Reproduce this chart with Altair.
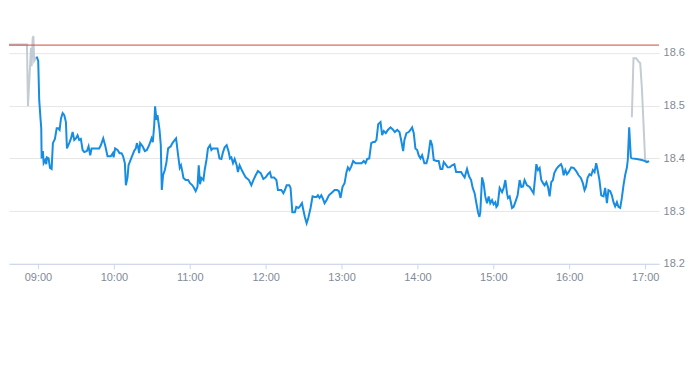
import altair as alt
import pandas as pd

# Minutes relative to 09:00 and prices
pre_min = [-29.0, -28.7, -8.7, -7.9, -5.5, -5.0, -4.2, -3.6, -3.0, -1.0]
pre_price = [18.656, 18.616, 18.616, 18.499, 18.610, 18.575, 18.628, 18.632, 18.585, 18.593]

session_min = [
    -1.0, 0.2, 1.0, 2.0, 2.6, 2.9, 3.9, 4.5, 5.8, 6.6,
    7.1, 8.4, 9.5, 10.8, 11.8, 13.4, 14.8, 16.0, 17.1, 18.2,
    19.5, 20.8, 22.1, 22.9, 24.7, 26.1, 27.4, 28.7, 30.0, 31.3,
    32.6, 33.9, 35.3, 36.6, 38.7, 40.0, 41.3, 42.4, 44.4, 48.4,
    49.7, 51.6, 53.1, 55.0, 57.6, 59.2, 59.8, 61.0, 62.9, 64.5,
    66.1, 67.3, 68.7, 69.5, 70.8, 71.6, 74.0, 76.0, 77.4, 78.2,
    79.2, 80.0, 80.8, 82.7, 84.5, 86.1, 87.9, 89.8, 90.8, 91.9,
    92.6, 93.7, 94.5, 96.1, 97.1, 97.9, 98.9, 100.3, 101.6, 102.9,
    105.0, 106.3, 108.2, 109.2, 110.8, 112.1, 113.1, 114.2, 115.0, 116.8,
    118.7, 120.2, 122.1, 123.4, 124.7, 126.1, 127.1, 128.1, 129.2, 130.8,
    131.8, 133.2, 134.4, 136.0, 137.1, 138.2, 141.9, 143.5, 145.0, 146.3,
    147.6, 149.2, 150.8, 151.8, 152.9, 154.2, 155.5, 157.1, 158.1, 159.4,
    161.5, 164.2, 166.8, 168.7, 170.3, 172.1, 173.9, 176.1, 178.2, 180.0,
    181.8, 183.4, 184.5, 186.6, 188.5, 189.7, 192.4, 194.0, 195.2, 196.6,
    198.7, 199.7, 201.1, 203.1, 204.2, 205.8, 207.1, 208.7, 209.8, 211.0,
    212.4, 213.7, 215.5, 217.1, 218.7, 220.3, 221.3, 222.6, 224.0, 225.0,
    226.6, 228.2, 230.0, 232.7, 234.5, 236.6, 237.9, 239.2, 240.8, 242.4,
    243.9, 245.0, 246.3, 247.7, 249.2, 251.1, 253.7, 255.8, 257.6, 259.0,
    260.3, 261.9, 263.5, 265.0, 266.3, 267.6, 269.0, 270.8, 272.1, 273.4,
    275.0, 276.6, 278.7, 280.5, 282.1, 284.0, 285.8, 287.1, 288.7, 289.7,
    291.3, 293.1, 294.5, 295.8, 297.1, 298.4, 299.8, 301.0, 302.4, 303.7,
    305.5, 307.1, 308.4, 310.3, 311.6, 312.9, 315.0, 316.8, 318.2, 319.7,
    320.8, 322.1, 323.9, 325.5, 327.4, 329.2, 330.6, 332.6, 334.5, 336.1,
    337.3, 339.2, 340.8, 342.4, 343.7, 345.2, 346.6, 347.9, 349.0, 349.7,
    351.1, 352.3, 353.7, 355.0, 356.3, 357.6, 359.0, 360.2, 361.6, 362.4,
    363.4, 365.0, 366.9, 368.2, 369.5, 370.8, 371.6, 372.9, 374.8, 376.0,
    377.4, 379.2, 380.8, 382.1, 383.5, 384.7, 386.6, 388.7, 390.2, 391.8,
    393.2, 394.0, 395.3, 396.6, 397.9, 399.3, 400.5, 401.9, 403.2, 404.5,
    405.8, 407.1, 408.2, 409.8, 411.6, 413.5, 414.5, 415.6, 416.9, 418.2,
    419.5, 421.6, 423.5, 425.5, 427.4, 429.2, 430.8, 432.1, 433.2, 434.5,
    436.0, 437.4, 438.7, 440.0, 441.3, 442.3, 443.9, 445.3, 447.1, 448.4,
    449.8, 451.0, 452.4, 453.7, 455.0, 456.3, 457.7, 458.9, 460.3, 461.6,
    462.9, 464.2, 465.6, 466.3, 467.4, 468.7, 469.5, 473.5, 477.4, 480.0,
    481.3, 483.2,
]
session_price = [
    18.593, 18.585, 18.510, 18.476, 18.457, 18.400, 18.414, 18.391, 18.397, 18.389,
    18.402, 18.400, 18.382, 18.380, 18.429, 18.437, 18.457, 18.457, 18.454, 18.476,
    18.486, 18.482, 18.469, 18.419, 18.429, 18.438, 18.450, 18.435, 18.438, 18.444,
    18.435, 18.437, 18.416, 18.412, 18.414, 18.423, 18.406, 18.419, 18.419, 18.419,
    18.425, 18.438, 18.425, 18.404, 18.404, 18.410, 18.402, 18.419, 18.416, 18.410,
    18.410, 18.404, 18.391, 18.349, 18.364, 18.387, 18.402, 18.414, 18.419, 18.429,
    18.421, 18.410, 18.429, 18.423, 18.414, 18.416, 18.425, 18.438, 18.431, 18.463,
    18.499, 18.473, 18.482, 18.454, 18.425, 18.340, 18.368, 18.378, 18.393, 18.419,
    18.423, 18.429, 18.435, 18.438, 18.406, 18.382, 18.387, 18.374, 18.363, 18.359,
    18.359, 18.353, 18.349, 18.344, 18.338, 18.346, 18.387, 18.351, 18.363, 18.359,
    18.378, 18.397, 18.419, 18.425, 18.416, 18.419, 18.419, 18.400, 18.399, 18.412,
    18.421, 18.425, 18.412, 18.400, 18.402, 18.391, 18.399, 18.387, 18.374, 18.387,
    18.376, 18.364, 18.359, 18.349, 18.359, 18.368, 18.376, 18.372, 18.361, 18.364,
    18.370, 18.374, 18.364, 18.364, 18.359, 18.340, 18.340, 18.334, 18.340, 18.349,
    18.349, 18.344, 18.298, 18.298, 18.308, 18.306, 18.309, 18.315, 18.302, 18.289,
    18.277, 18.287, 18.306, 18.328, 18.327, 18.327, 18.330, 18.325, 18.330, 18.325,
    18.315, 18.321, 18.330, 18.336, 18.340, 18.340, 18.338, 18.325, 18.346, 18.353,
    18.374, 18.383, 18.378, 18.385, 18.395, 18.391, 18.391, 18.391, 18.395, 18.391,
    18.399, 18.400, 18.429, 18.431, 18.431, 18.435, 18.465, 18.469, 18.444, 18.452,
    18.448, 18.454, 18.459, 18.455, 18.450, 18.454, 18.450, 18.435, 18.414, 18.435,
    18.448, 18.450, 18.454, 18.459, 18.448, 18.419, 18.416, 18.406, 18.400, 18.406,
    18.391, 18.391, 18.402, 18.435, 18.425, 18.397, 18.395, 18.395, 18.380, 18.380,
    18.393, 18.389, 18.383, 18.383, 18.387, 18.389, 18.374, 18.374, 18.374, 18.368,
    18.364, 18.380, 18.366, 18.359, 18.344, 18.334, 18.315, 18.298, 18.289, 18.298,
    18.364, 18.353, 18.327, 18.315, 18.328, 18.315, 18.321, 18.313, 18.317, 18.308,
    18.311, 18.344, 18.336, 18.344, 18.359, 18.334, 18.325, 18.328, 18.306, 18.308,
    18.317, 18.330, 18.359, 18.346, 18.347, 18.359, 18.349, 18.346, 18.340, 18.334,
    18.368, 18.389, 18.378, 18.382, 18.359, 18.353, 18.349, 18.355, 18.346, 18.328,
    18.355, 18.359, 18.372, 18.380, 18.385, 18.389, 18.383, 18.368, 18.378, 18.370,
    18.374, 18.383, 18.382, 18.376, 18.368, 18.363, 18.353, 18.340, 18.346, 18.363,
    18.370, 18.368, 18.378, 18.374, 18.391, 18.380, 18.359, 18.330, 18.328, 18.344,
    18.315, 18.340, 18.338, 18.330, 18.317, 18.309, 18.317, 18.308, 18.306, 18.325,
    18.349, 18.368, 18.383, 18.397, 18.459, 18.402, 18.400, 18.399, 18.397, 18.395,
    18.393, 18.395,
]

post_min = [469.5, 470.8, 472.9, 474.7, 476.1, 477.4, 478.7, 480.0, 482.7]
post_price = [18.478, 18.590, 18.590, 18.584, 18.581, 18.535, 18.467, 18.397, 18.393]

prev_close = 18.615
y_ticks = [18.2, 18.3, 18.4, 18.5, 18.6]
hour_ticks = list(range(9, 18))

base_time = pd.Timestamp("2024-01-02 09:00:00")


def frame(mins, prices, seg):
    return pd.DataFrame({
        "time": base_time + pd.to_timedelta(mins, unit="m"),
        "price": prices,
        "seg": seg,
    })


ext_df = pd.concat([frame(pre_min, pre_price, "pre"), frame(post_min, post_price, "post")])
sess_df = frame(session_min, session_price, "session")
rule_df = pd.DataFrame({"price": [prev_close]})

label_color = "#7f8a96"

x_scale = alt.Scale(
    domain=[
        alt.DateTime(year=2024, month=1, date=2, hours=8, minutes=37, seconds=6),
        alt.DateTime(year=2024, month=1, date=2, hours=17, minutes=11, seconds=0),
    ],
    nice=False,
)
y_scale = alt.Scale(domain=[18.2, 18.685], nice=False, zero=False)

x_axis = alt.Axis(
    title=None,
    format="%H:%M",
    values=[alt.DateTime(year=2024, month=1, date=2, hours=h) for h in hour_ticks],
    grid=False,
    domainColor="#ccd6eb",
    tickColor="#ccd6eb",
    tickSize=5,
    labelPadding=3,
    labelFont="Liberation Sans",
    labelFontSize=11,
    labelColor=label_color,
    labelFlush=False,
)
y_axis = alt.Axis(
    title=None,
    orient="right",
    values=y_ticks,
    format=".1f",
    grid=True,
    gridColor="#e6e6e6",
    domain=False,
    ticks=False,
    labelAlign="left",
    labelBaseline="middle",
    labelPadding=4,
    labelFont="Liberation Sans",
    labelFontSize=11,
    labelColor=label_color,
)

ext_line = alt.Chart(ext_df).mark_line(color="#c3ccd4", strokeWidth=2, clip=True).encode(
    x=alt.X("time:T", scale=x_scale, axis=x_axis),
    y=alt.Y("price:Q", scale=y_scale, axis=y_axis),
    detail="seg:N",
)

sess_line = alt.Chart(sess_df).mark_line(color="#168de2", strokeWidth=2, clip=True).encode(
    x=alt.X("time:T", scale=x_scale, axis=x_axis),
    y=alt.Y("price:Q", scale=y_scale, axis=y_axis),
)

rule = alt.Chart(rule_df).mark_rule(color="#d2473d", strokeWidth=1).encode(
    y=alt.Y("price:Q", scale=y_scale, axis=y_axis),
)

chart = alt.layer(ext_line, rule, sess_line).properties(
    width=651,
    height=256,
    padding=0,
    background="white",
).configure_view(stroke=None)

chart.save("out.html", embed_options={"renderer": "svg", "actions": False})
